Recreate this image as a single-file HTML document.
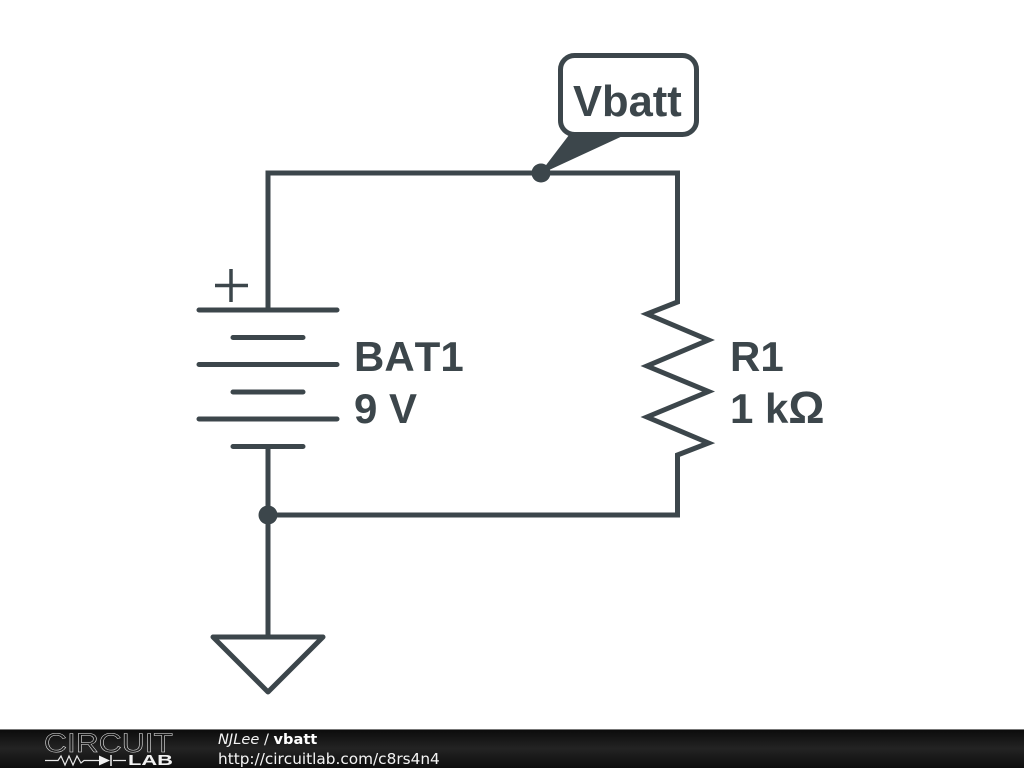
<!DOCTYPE html>
<html>
<head>
<meta charset="utf-8">
<style>
html,body{margin:0;padding:0;background:#fff;width:1024px;height:768px;overflow:hidden}
svg{display:block}
text{font-kerning:none}
</style>
</head>
<body>
<svg width="1024" height="768" viewBox="0 0 1024 768" xmlns="http://www.w3.org/2000/svg">
<defs>
<linearGradient id="bar" x1="0" y1="0" x2="0" y2="1">
<stop offset="0" stop-color="#0b0b0b"/>
<stop offset="0.5" stop-color="#232323"/>
<stop offset="1" stop-color="#0e0e0e"/>
</linearGradient>
</defs>
<rect width="1024" height="768" fill="#fff"/>
<g fill="none" stroke="#3c464b" stroke-width="5" stroke-linejoin="miter">
<path d="M268 310V173H677.500V302L647 314L708.500 340L647 366L708.500 391.500L647 417L708.500 443L677.500 455V515H268"/>
<path d="M268 447V637"/>
<path d="M213 637H323L268 692Z" stroke-linejoin="round"/>
<g stroke-linecap="round">
<path d="M199 310H337M199 364.500H337M199 419H337"/>
<path d="M233 337.500H303M233 392H303M233 446.500H303"/>
</g>
<path d="M215 285.500H248M231 269V302" stroke-width="3.500"/>
<rect x="560.500" y="55.500" width="136" height="79" rx="14" ry="14"/>
</g>
<g fill="#3c464b">
<polygon points="541,173 570,135 621,136" stroke="#3c464b" stroke-width="1.500" stroke-linejoin="round"/>
<circle cx="541" cy="173" r="9.500"/>
<circle cx="268" cy="515" r="9.500"/>
</g>
<g font-family="'Liberation Sans',sans-serif" font-weight="bold" fill="#3c464b">
<text x="573" y="116" font-size="43.500">Vbatt</text>
<text x="354" y="371" font-size="42">BAT1</text>
<text x="354" y="423" font-size="42">9 V</text>
<text x="730" y="371" font-size="42">R1</text>
<text x="730" y="423" font-size="42">1 k<tspan font-size="45">Ω</tspan></text>
</g>
<rect x="0" y="729" width="1024" height="39" fill="url(#bar)"/>
<rect x="0" y="729" width="1024" height="1" fill="#777"/>
<text x="44" y="752" font-family="'Liberation Sans',sans-serif" font-size="26.500" fill="none" stroke="#e4e4e4" stroke-width="0.500" textLength="129" lengthAdjust="spacingAndGlyphs">CIRCUIT</text>
<text x="128" y="765" font-family="'Liberation Sans',sans-serif" font-weight="bold" font-size="14.500" fill="#f2f2f2" textLength="45" lengthAdjust="spacingAndGlyphs">LAB</text>
<path d="M45 760.500H58L61 756L65 765L69 756L73 765L77 756L81 763L84 760.500H99M113 760.500H126" fill="none" stroke="#e8e8e8" stroke-width="1.200"/>
<polygon points="99,755.500 99,765.500 110,760.500" fill="#f2f2f2"/>
<path d="M111 755V766" stroke="#f2f2f2" stroke-width="1.500"/>
<g font-family="'DejaVu Sans',sans-serif" fill="#f4f4f4">
<text x="218" y="744" font-size="14.600"><tspan font-style="italic">NJLee</tspan> / <tspan font-weight="bold" fill="#fff">vbatt</tspan></text>
<text x="218" y="764" font-size="15.300">http://circuitlab.com/c8rs4n4</text>
</g>
</svg>
</body>
</html>
